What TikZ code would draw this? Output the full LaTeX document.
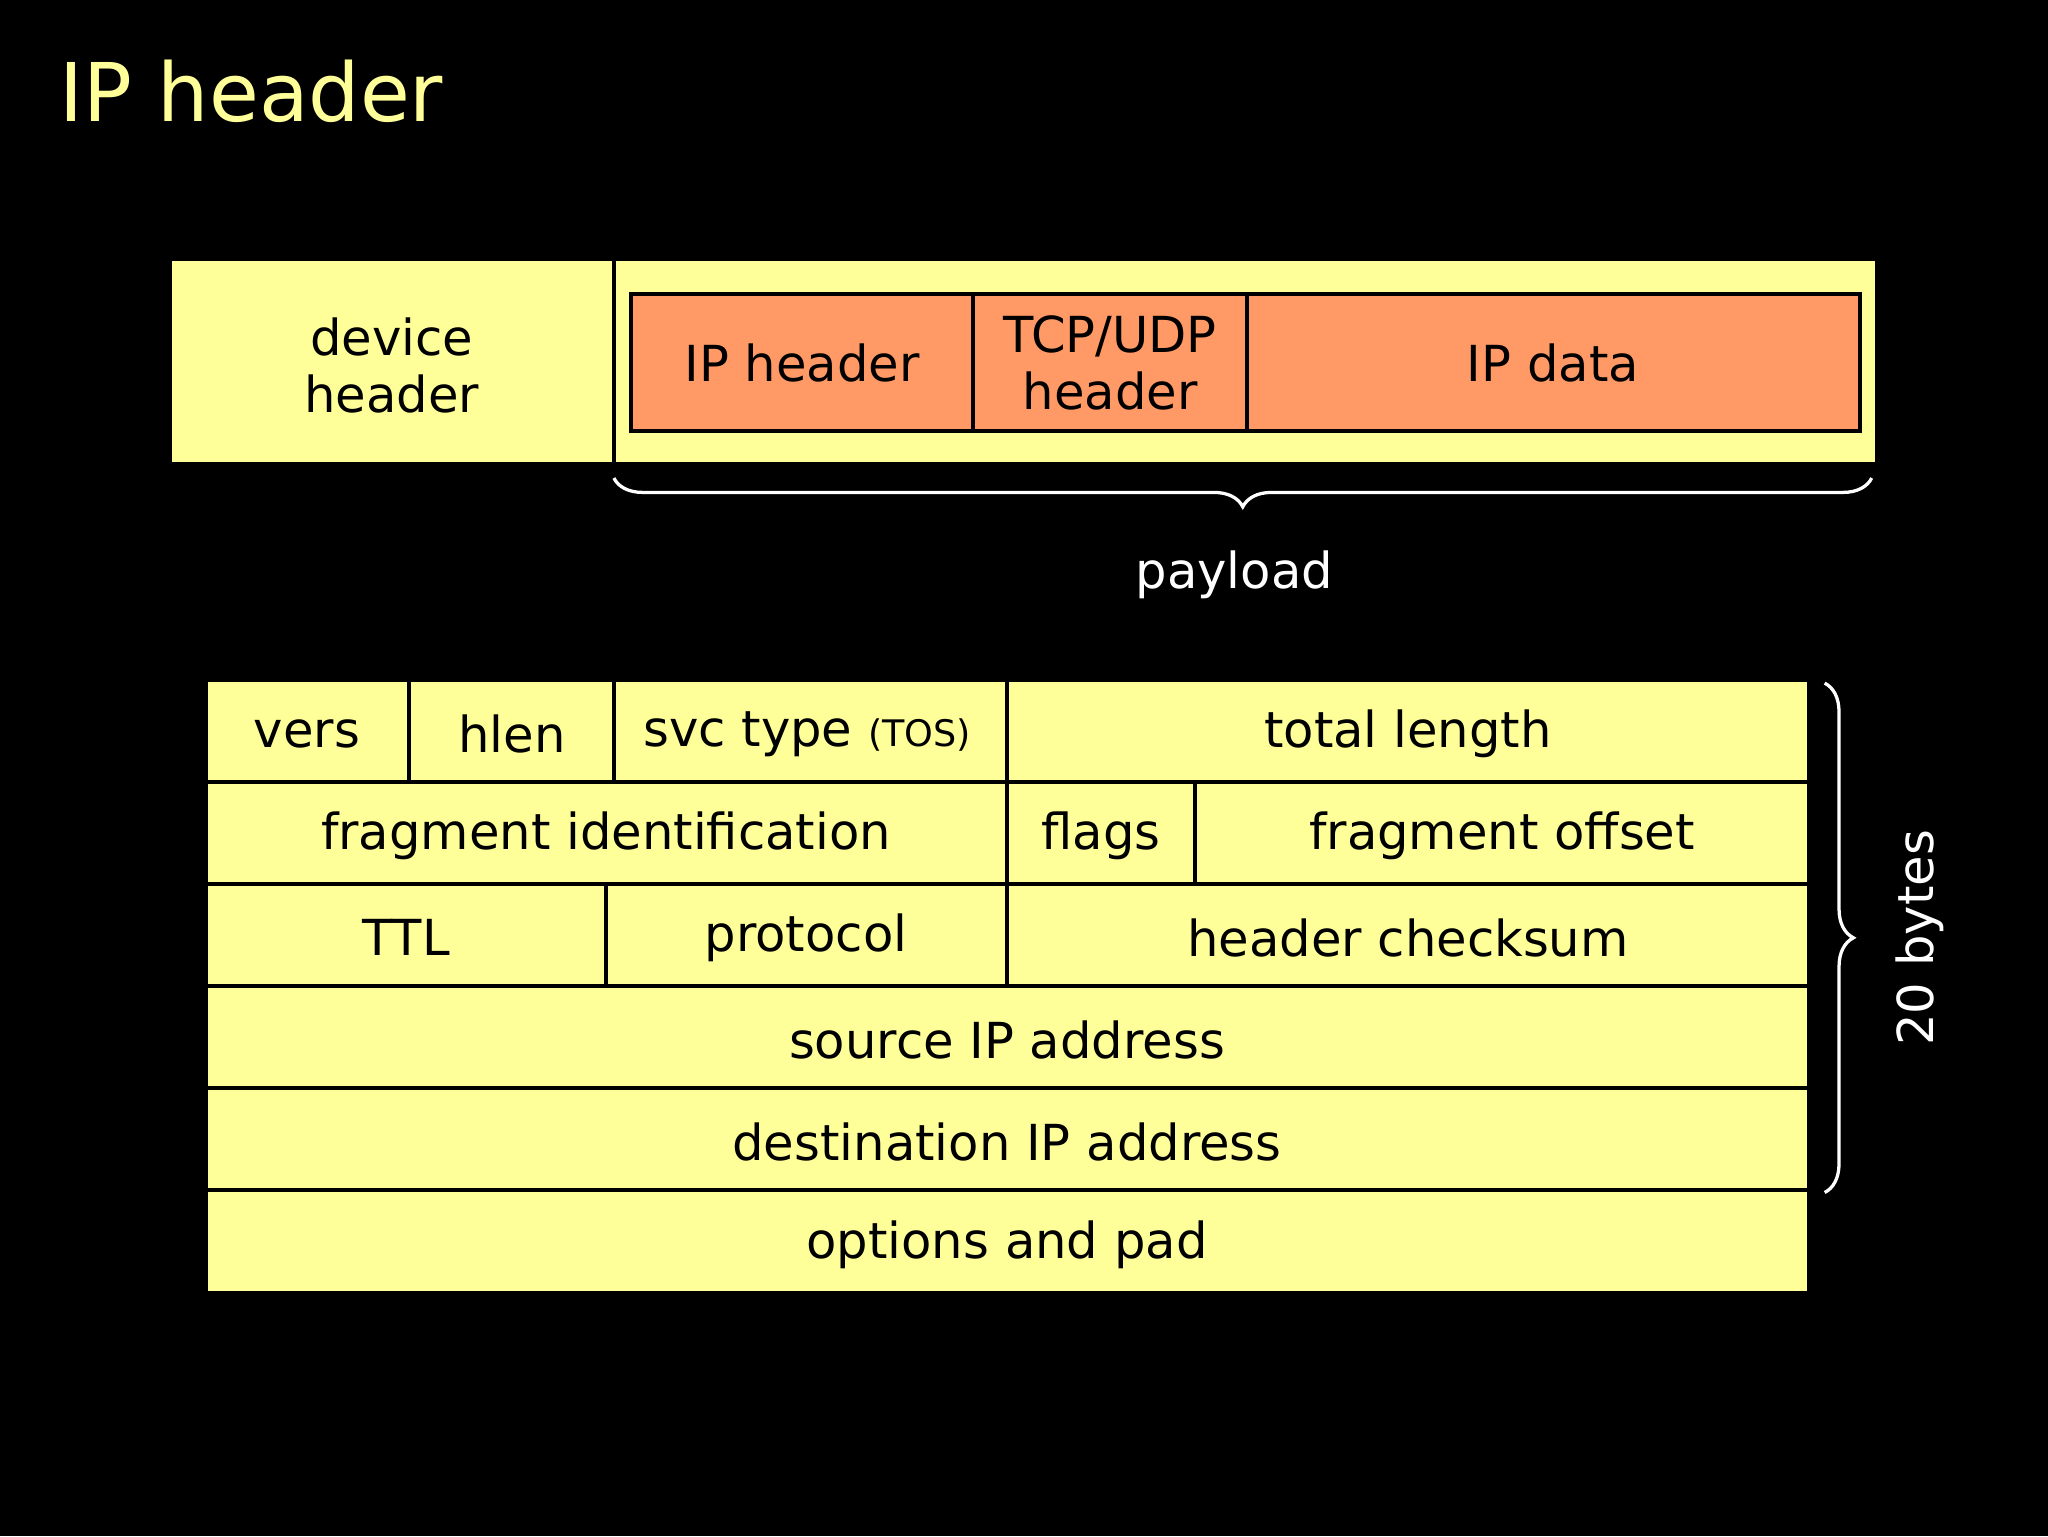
\documentclass[tikz,border=0pt]{standalone}
\usepackage{fontspec}
\setmainfont{DejaVu Sans}
\usetikzlibrary{decorations.pathreplacing}
\definecolor{ylw}{HTML}{FFFF99}
\definecolor{org}{HTML}{FF9966}
\begin{document}
\begin{tikzpicture}[x=1pt,y=-1pt,
 cell/.style={draw=black,line width=3pt,fill=ylw},
 ocell/.style={draw=black,line width=3pt,fill=org},
 lbl/.style={font=\fontsize{38}{44}\selectfont,text=black,align=center},
 wlbl/.style={font=\fontsize{38}{44}\selectfont,text=white},
 brc/.style={draw=white,line width=2.5pt,decorate,decoration={brace,amplitude=22pt}}]
\fill[black] (0,0) rectangle (1568,1176);
\node[anchor=west,text=ylw,font=\fontsize{62}{70}\selectfont] (title) at (42,70) {IP header};
% top frame
\draw[cell] (130,198) rectangle (1437,355);
\draw[black,line width=3pt] (470,198) -- (470,355);
\node[lbl] (dev) at (300,280) {device\\header};
\draw[ocell] (483,225) rectangle (1424,330);
\draw[black,line width=3pt] (745,225) -- (745,330) (955,225) -- (955,330);
\node[lbl] (iph) at (614,278) {IP header};
\node[lbl] (tcp) at (850,278) {TCP/UDP\\header};
\node[lbl] (ipd) at (1189,278) {IP data};
\coordinate (pl) at (470,366); \coordinate (pr) at (1433,366);
\draw[brc,decoration={mirror}] (pl) -- (pr);
\node[wlbl] (pay) at (945,440) {payload};
% table
\foreach \a/\b in {521/599,599/677,677/755,755/833,833/911,911/990}{\draw[cell] (158,\a) rectangle (1385,\b);}
\draw[black,line width=3pt] (313,521)--(313,599) (470,521)--(470,599) (771,521)--(771,599)
 (771,599)--(771,677) (915,599)--(915,677) (464,677)--(464,755) (771,677)--(771,755);
\node[lbl] (vers) at (235,562) {vers};
\node[lbl] (hlen) at (392,562) {hlen};
\node[lbl] (svc) at (618,562) {svc type {\fontsize{28}{30}\selectfont(TOS)}};
\node[lbl] (tot) at (1078,562) {total length};
\node[lbl] (fid) at (464,640) {fragment identification};
\node[lbl] (flg) at (843,640) {flags};
\node[lbl] (fof) at (1150,640) {fragment offset};
\node[lbl] (ttl) at (311,718) {TTL};
\node[lbl] (pro) at (617,718) {protocol};
\node[lbl] (hck) at (1078,718) {header checksum};
\node[lbl] (src) at (771,796) {source IP address};
\node[lbl] (dst) at (771,874) {destination IP address};
\node[lbl] (opt) at (771,953) {options and pad};
\coordinate (bt) at (1397,523); \coordinate (bb) at (1397,913);
\draw[brc] (bt) -- (bb);
\node[wlbl,rotate=90] (byt) at (1470,718) {20 bytes};
\end{tikzpicture}
\end{document}
